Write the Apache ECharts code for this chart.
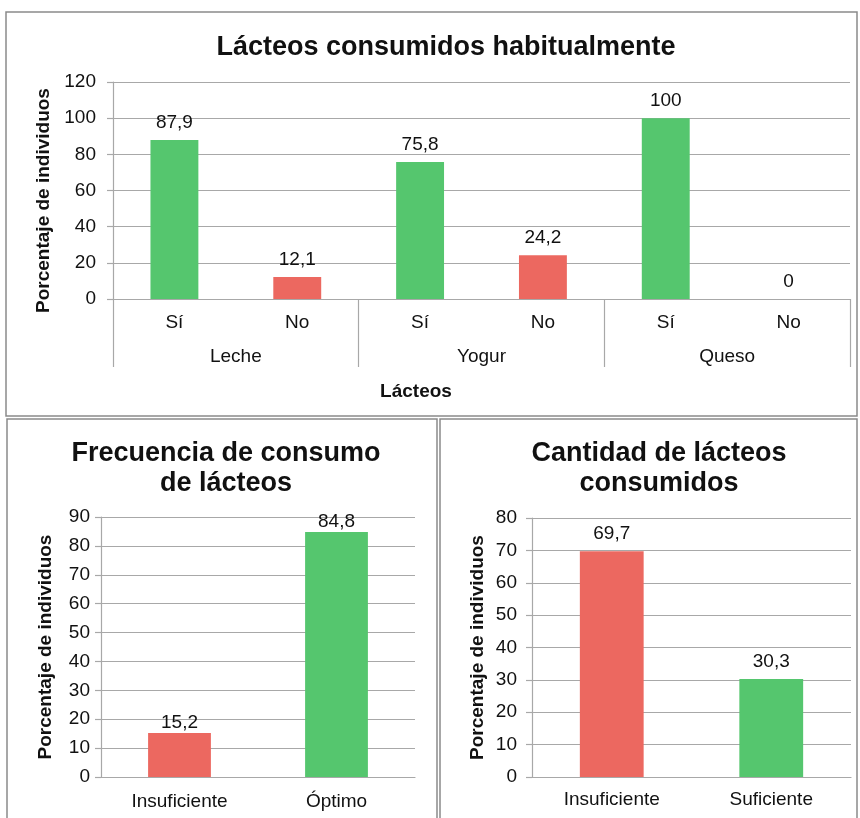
<!DOCTYPE html>
<html>
<head>
<meta charset="utf-8">
<script src="https://cdn.jsdelivr.net/npm/echarts@6/dist/echarts.min.js"></script>
<style>
  html, body { margin: 0; padding: 0; background: #ffffff; }
  #chart { width: 860px; height: 818px; }
</style>
</head>
<body>
<div id="chart"></div>
<script>
// ---- Data ----
const topGroups = ['Leche', 'Yogur', 'Queso'];
const topAnswers = ['Sí', 'No', 'Sí', 'No', 'Sí', 'No'];
const topValues = [87.9, 12.1, 75.8, 24.2, 100, 0];

const freqCategories = ['Insuficiente', 'Óptimo'];
const freqValues = [15.2, 84.8];

const cantCategories = ['Insuficiente', 'Suficiente'];
const cantValues = [69.7, 30.3];

const titles = ['Lácteos consumidos habitualmente', 'Frecuencia de consumo\nde lácteos', 'Cantidad de lácteos\nconsumidos'];
const yName = 'Porcentaje de individuos';
const xNameTop = 'Lácteos';

// ---- Style ----
const GREEN = '#55C66E';
const RED = '#EC6860';
const GRIDC = '#A8A8A8';
const TXT = '#111111';
const FONT = "'Liberation Sans', Arial, sans-serif";
const badCats = ['No', 'Insuficiente'];
const colorFor = c => badCats.indexOf(c) >= 0 ? RED : GREEN;
const fmt = p => String(p.value).replace('.', ',');

function barData(cats, vals) {
  return vals.map((v, i) => ({ value: v, itemStyle: { color: colorFor(cats[i]) } }));
}

const chart = echarts.init(document.getElementById('chart'), null, { renderer: 'canvas' });

function yAxisCfg(gridIndex, max, interval, margin, nameGap, namePad) {
  return {
    type: 'value', gridIndex: gridIndex, min: 0, max: max, interval: interval,
    name: yName, nameLocation: 'middle', nameGap: nameGap,
    nameTextStyle: { fontFamily: FONT, fontWeight: 'bold', fontSize: 19, color: TXT, padding: namePad },
    axisLine: { show: true, lineStyle: { color: GRIDC, width: 1.2 } },
    axisTick: { show: true, length: 6, lineStyle: { color: GRIDC, width: 1.2 } },
    axisLabel: { fontFamily: FONT, fontSize: 19, color: TXT, margin: margin },
    splitLine: { show: true, lineStyle: { color: GRIDC, width: 1.2 } }
  };
}

function catAxis(gridIndex, data, margin) {
  return {
    type: 'category', gridIndex: gridIndex, data: data, position: 'bottom',
    axisLine: { show: true, onZero: false, lineStyle: { color: GRIDC, width: 1.2 } },
    axisTick: { show: false },
    axisLabel: { fontFamily: FONT, fontSize: 19, color: TXT, margin: margin, interval: 0 },
    splitLine: { show: false }
  };
}

const labelCfg = (dist) => ({
  show: true, position: 'top', distance: dist, formatter: fmt,
  fontFamily: FONT, fontSize: 19, color: TXT
});

const option = {
  backgroundColor: '#ffffff',
  animation: false,
  title: [
    { text: titles[0], left: 441, top: 28, textAlign: 'center',
      textStyle: { fontFamily: FONT, fontWeight: 'bold', fontSize: 27, color: TXT, lineHeight: 30 } },
    { text: titles[1], left: 221, top: 434, textAlign: 'center',
      textStyle: { fontFamily: FONT, fontWeight: 'bold', fontSize: 27, color: TXT, lineHeight: 30, align: 'center' } },
    { text: titles[2], left: 654, top: 434, textAlign: 'center',
      textStyle: { fontFamily: FONT, fontWeight: 'bold', fontSize: 27, color: TXT, lineHeight: 30, align: 'center' } }
  ],
  grid: [
    { left: 113, top: 82, width: 737, height: 217, outerBoundsMode: 'none', containLabel: false },
    { left: 101, top: 517, width: 314, height: 260, outerBoundsMode: 'none', containLabel: false },
    { left: 532, top: 518, width: 319, height: 259, outerBoundsMode: 'none', containLabel: false }
  ],
  xAxis: [
    catAxis(0, topAnswers, 14),
    {
      type: 'category', gridIndex: 0, data: topGroups, position: 'bottom', offset: 0,
      axisLine: { show: false },
      axisTick: { show: true, length: 68, lineStyle: { color: GRIDC, width: 1.2 } },
      axisLabel: { fontFamily: FONT, fontSize: 19, color: TXT, margin: 48, interval: 0 },
      splitLine: { show: false }
    },
    catAxis(1, freqCategories, 15),
    catAxis(2, cantCategories, 13)
  ],
  yAxis: [
    yAxisCfg(0, 120, 20, 17, 58, [0, 20, 0, 0]),
    yAxisCfg(1, 90, 10, 11, 46, [0, 0, 0, 0]),
    yAxisCfg(2, 80, 10, 15, 45, [0, 0, 0, 0])
  ],
  series: [
    { type: 'bar', xAxisIndex: 0, yAxisIndex: 0, data: barData(topAnswers, topValues),
      barWidth: '39%', label: labelCfg(8) },
    { type: 'bar', xAxisIndex: 2, yAxisIndex: 1, data: barData(freqCategories, freqValues),
      barWidth: '40%', label: labelCfg(1) },
    { type: 'bar', xAxisIndex: 3, yAxisIndex: 2, data: barData(cantCategories, cantValues),
      barWidth: '40%', label: labelCfg(8) }
  ],
  graphic: [
    { type: 'rect', shape: { x: 6, y: 12, width: 851, height: 404 }, z: -1,
      style: { fill: 'none', stroke: '#8A8A8A', lineWidth: 1.5 } },
    { type: 'rect', shape: { x: 7, y: 419, width: 430, height: 410 }, z: -1,
      style: { fill: 'none', stroke: '#8A8A8A', lineWidth: 1.5 } },
    { type: 'rect', shape: { x: 440, y: 419, width: 417, height: 410 }, z: -1,
      style: { fill: 'none', stroke: '#8A8A8A', lineWidth: 1.5 } },
    { type: 'text', x: 416, y: 392, z: 5,
      style: { text: xNameTop, textAlign: 'center', textVerticalAlign: 'middle',
               font: "bold 19px 'Liberation Sans', Arial, sans-serif", fill: TXT } }
  ]
};

chart.setOption(option);
</script>
</body>
</html>
